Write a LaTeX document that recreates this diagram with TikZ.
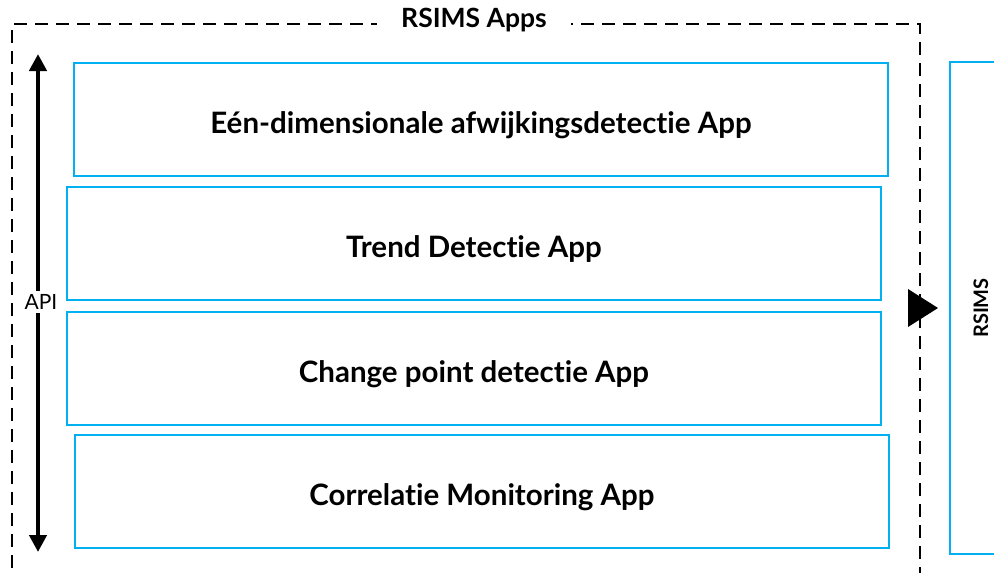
\documentclass[tikz,border=0pt]{standalone}
\usepackage{fontspec}
\setmainfont{Lato}[Ligatures=NoCommon]
\usetikzlibrary{arrows.meta}

\begin{document}
\begin{tikzpicture}[x=1pt, y=-1pt,
				app/.style={
				% The shape:
				rectangle,
				% The size:
				minimum width=814pt, minimum height=113pt,
				text height=32pt, text depth=5pt,
				% The border:
				line width=2.6pt, draw=appblue,
				% Font
				font=\fontsize{29.5}{34}\selectfont\bfseries
				},
				frame/.style={
				line width=2.4pt, dash pattern=on 13pt off 8pt
				},
				api/.style={
				line width=4.6pt, {Triangle[length=17pt,width=17pt]}-{Triangle[length=17pt,width=17pt]}
				},
				]
    \definecolor{appblue}{HTML}{00B0F0}
    \useasboundingbox (0,0) rectangle (994,573);
    % outer frame
    \draw[frame] (12,610) -- (12,24) -- (920,24) -- (920,610);
    \node [fill=white, inner xsep=24pt, font=\fontsize{26.5}{30}\selectfont\bfseries] (title) at (474,20) {RSIMS Apps};
    % apps
    \node [app] (een) at (481,119.5) {Eén-dimensionale afwijkingsdetectie App};
    \node [app] (trend) at (474,243.5) {Trend Detectie App};
    \node [app] (change) at (474,368.5) {Change point detectie App};
    \node [app] (corr) at (482,491.5) {Correlatie Monitoring App};
    % api
    \coordinate (apitop) at (38,54);
    \coordinate (apibot) at (38,552);
    \draw[api] (apitop) -- (apibot);
    \node [fill=white, inner sep=3pt, font=\fontsize{21}{24}\selectfont] (apilbl) at (41,302) {API};
    % rsims
    \fill (908,289) -- (938,308) -- (908,327) -- cycle;
    \node [rectangle, draw=appblue, line width=2.6pt, minimum width=80pt, minimum height=492pt] (rsims) at (990,308) {};
    \node [rotate=90, font=\fontsize{20}{24}\selectfont\bfseries] (rsimslbl) at (981,308) {RSIMS};
\end{tikzpicture}
\end{document}
